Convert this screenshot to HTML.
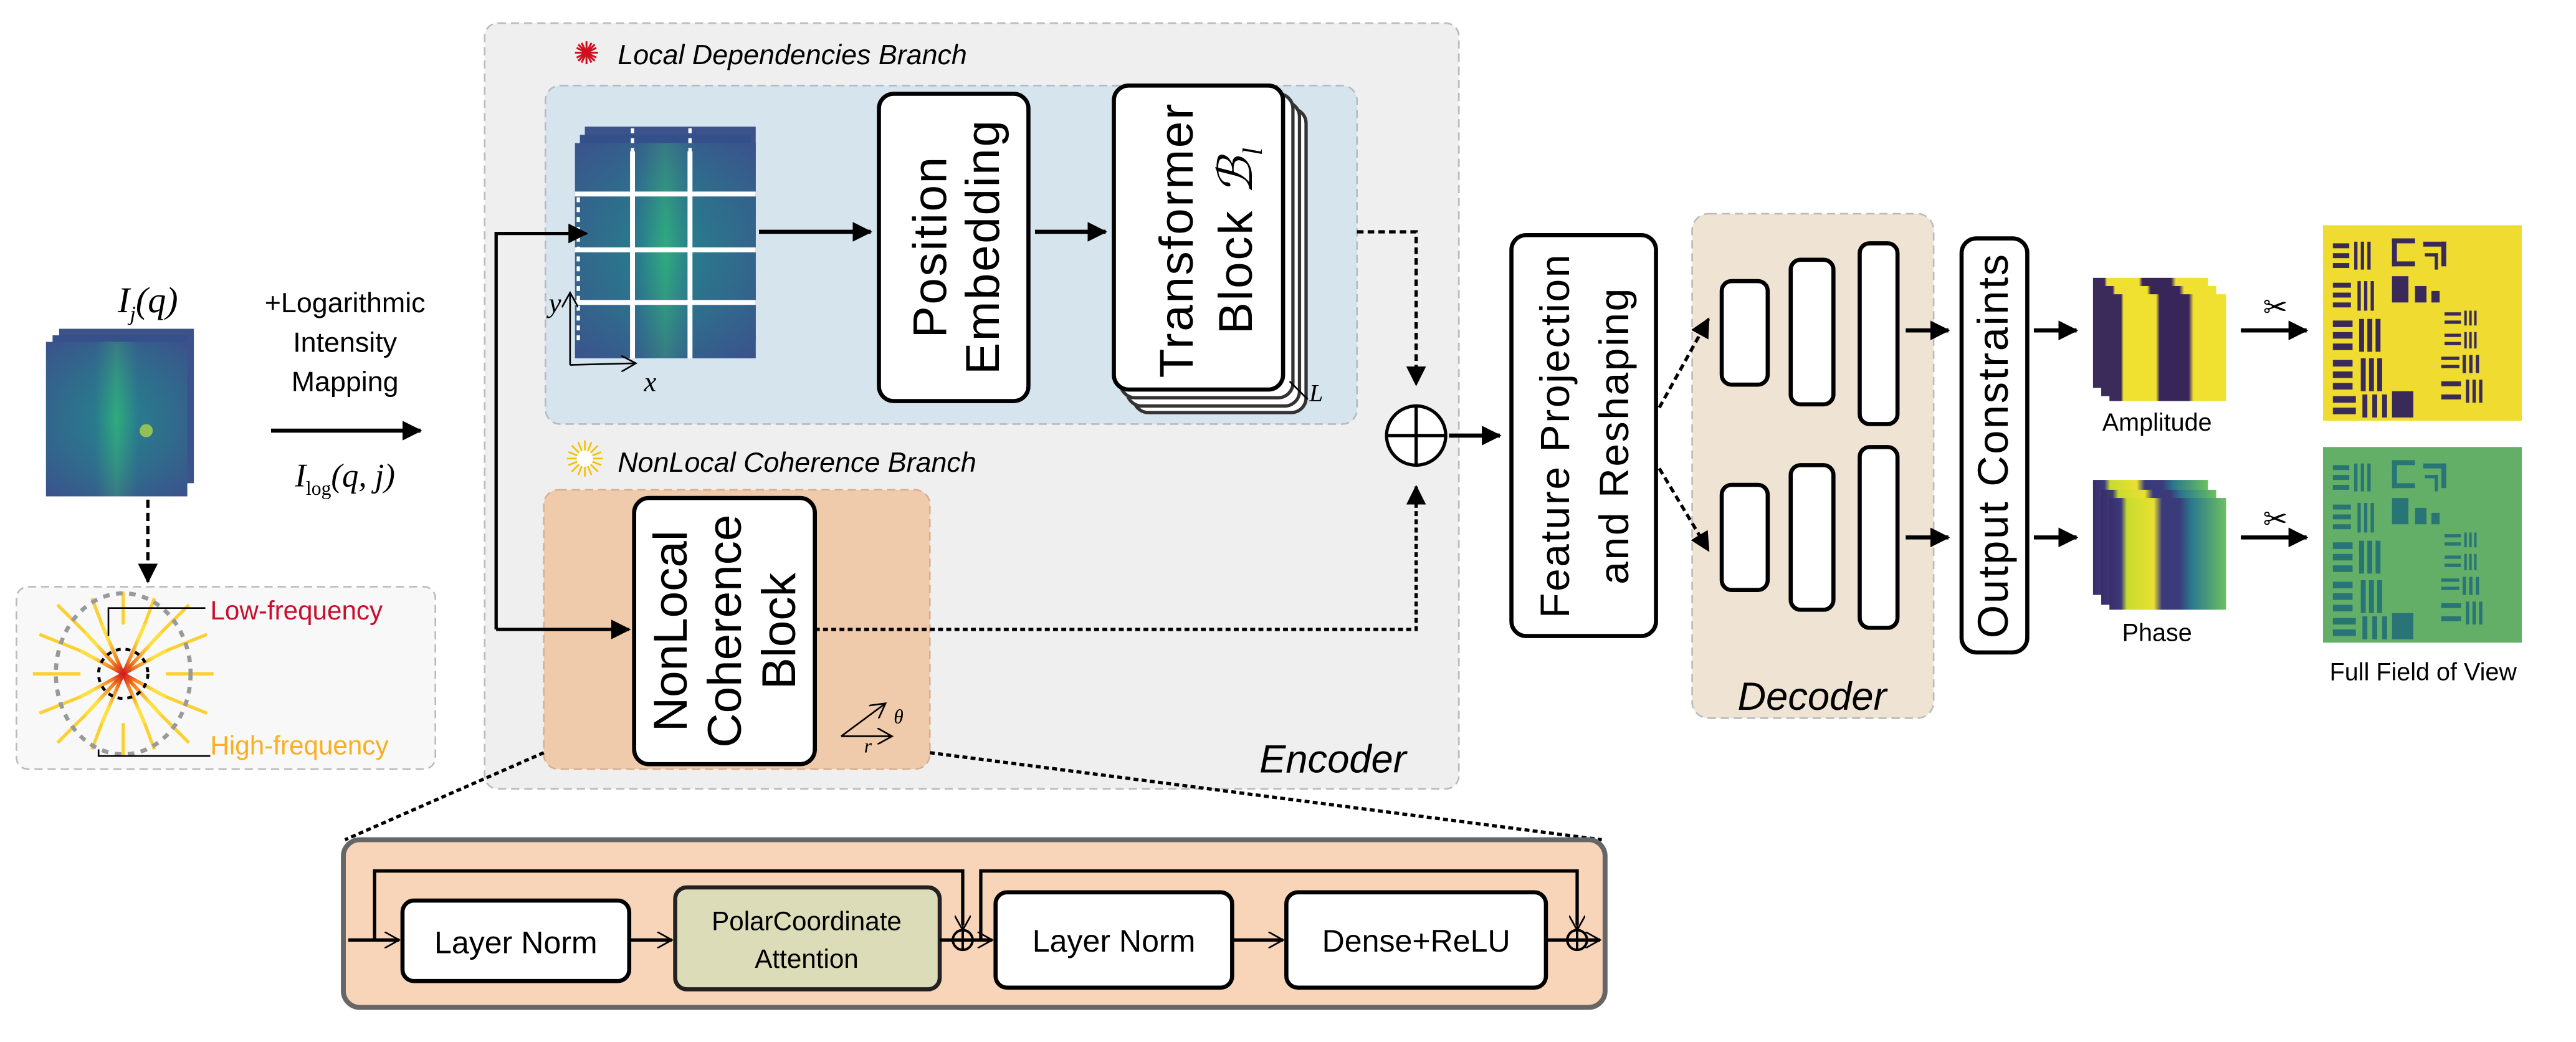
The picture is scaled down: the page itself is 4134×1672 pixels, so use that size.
<!DOCTYPE html>
<html><head><meta charset="utf-8"><style>
html,body{margin:0;padding:0;background:#fff}
svg{display:block}
text{font-family:"Liberation Sans",sans-serif}
.it{font-style:italic}
.ser{font-family:"Liberation Serif",serif;font-style:italic}
</style></head><body>
<svg width="4134" height="1672" viewBox="0 0 1568 634" xmlns="http://www.w3.org/2000/svg">
<defs>
<marker id="ab" markerWidth="12" markerHeight="12" refX="11" refY="6" orient="auto" markerUnits="userSpaceOnUse"><path d="M0,0 L12,6 L0,12 z" fill="#000"/></marker>
<marker id="ao" markerWidth="10" markerHeight="10" refX="9" refY="5" orient="auto" markerUnits="userSpaceOnUse"><path d="M0,0 L9,5 L0,10" fill="none" stroke="#000" stroke-width="1"/></marker>
<linearGradient id="fm" x1="0" x2="1"><stop offset="0" stop-color="#3b528b"/><stop offset="0.35" stop-color="#2c728e"/><stop offset="0.5" stop-color="#35b779"/><stop offset="0.65" stop-color="#2c728e"/><stop offset="1" stop-color="#3b528b"/></linearGradient>
<linearGradient id="fmv" x1="0" x2="0" y1="0" y2="1"><stop offset="0" stop-color="#3b528b" stop-opacity="0.6"/><stop offset="0.5" stop-color="#21918c" stop-opacity="0.3"/><stop offset="1" stop-color="#3b528b" stop-opacity="0.6"/></linearGradient>
<linearGradient id="amp" x1="0" x2="1"><stop offset="0" stop-color="#3b2b5b"/><stop offset="0.1" stop-color="#3b2b5b"/><stop offset="0.12" stop-color="#f0e030"/><stop offset="0.4" stop-color="#f0e030"/><stop offset="0.43" stop-color="#38265a"/><stop offset="0.68" stop-color="#38265a"/><stop offset="0.72" stop-color="#f0e030"/><stop offset="1" stop-color="#f0e030"/></linearGradient>
<linearGradient id="ph" x1="0" x2="1"><stop offset="0" stop-color="#3b2b6b"/><stop offset="0.1" stop-color="#3b3b7b"/><stop offset="0.15" stop-color="#c8dc30"/><stop offset="0.38" stop-color="#e8e030"/><stop offset="0.45" stop-color="#3b3b7b"/><stop offset="0.6" stop-color="#3b3b7b"/><stop offset="0.7" stop-color="#2a788e"/><stop offset="1" stop-color="#6cc060"/></linearGradient>
<radialGradient id="ray"><stop offset="0" stop-color="#d01020"/><stop offset="0.4" stop-color="#f08020"/><stop offset="1" stop-color="#ffe040"/></radialGradient>
</defs>

<rect x="295" y="14" width="593" height="466" rx="8" fill="#efefef" stroke="#bbb" stroke-dasharray="5,3" stroke-width="1"/>
<text x="856" y="470" class="it" font-size="24" text-anchor="end">Encoder</text>

<g stroke="#d01020" stroke-width="1.2">
<line x1="350" y1="32" x2="364" y2="32"/><line x1="357" y1="25" x2="357" y2="39"/><line x1="352" y1="27" x2="362" y2="37"/><line x1="362" y1="27" x2="352" y2="37"/><line x1="351" y1="29" x2="363" y2="35"/><line x1="351" y1="35" x2="363" y2="29"/><line x1="354" y1="26" x2="360" y2="38"/><line x1="360" y1="26" x2="354" y2="38"/>
</g>
<text x="376" y="39" class="it" font-size="17">Local Dependencies Branch</text>
<rect x="332" y="52" width="494" height="206" rx="9" fill="#d6e4ee" stroke="#b0bcc8" stroke-dasharray="5,3"/>

<rect x="356" y="77" width="104" height="130" fill="#3b528b"/>
<rect x="353" y="82" width="104" height="130" fill="#34508a"/>
<rect x="350" y="87" width="110" height="131" fill="url(#fm)"/>
<rect x="350" y="87" width="110" height="131" fill="url(#fmv)"/>
<g stroke="#fff" stroke-width="3">
<line x1="350" y1="118" x2="460" y2="118"/><line x1="350" y1="152" x2="460" y2="152"/><line x1="350" y1="184" x2="460" y2="184"/>
<line x1="385" y1="92" x2="385" y2="218"/><line x1="420" y1="92" x2="420" y2="218"/>
</g>
<g stroke="#fff" stroke-width="2" stroke-dasharray="3,3"><line x1="385" y1="78" x2="385" y2="92"/><line x1="420" y1="78" x2="420" y2="92"/><line x1="352" y1="120" x2="352" y2="210"/></g>
<line x1="347" y1="222" x2="347" y2="178" stroke="#000" stroke-width="1" marker-end="url(#ao)"/>
<line x1="347" y1="222" x2="387" y2="221" stroke="#000" stroke-width="1" marker-end="url(#ao)"/>
<text x="334" y="190" class="ser" font-size="17">y</text>
<text x="392" y="238" class="ser" font-size="17">x</text>

<line x1="462" y1="141" x2="530" y2="141" stroke="#000" stroke-width="2.5" marker-end="url(#ab)"/>
<rect x="535" y="57" width="91" height="187" rx="9" fill="#fff" stroke="#000" stroke-width="2.5"/>
<text transform="translate(576,150) rotate(-90)" font-size="29" letter-spacing="1" text-anchor="middle">Position</text>
<text transform="translate(608,150) rotate(-90)" font-size="29" letter-spacing="1" text-anchor="middle">Embedding</text>
<line x1="630" y1="141" x2="673" y2="141" stroke="#000" stroke-width="2.5" marker-end="url(#ab)"/>
<rect x="690" y="66" width="105" height="185" rx="9" fill="#fff" stroke="#333" stroke-width="2"/>
<rect x="686" y="62" width="105" height="185" rx="9" fill="#fff" stroke="#333" stroke-width="2"/>
<rect x="682" y="57" width="105" height="185" rx="9" fill="#fff" stroke="#333" stroke-width="2"/>
<rect x="678" y="52" width="103" height="185" rx="9" fill="#fff" stroke="#000" stroke-width="2.5"/>
<text transform="translate(726,146) rotate(-90)" font-size="29" letter-spacing="1" text-anchor="middle">Transformer</text>
<text transform="translate(762,146) rotate(-90)" font-size="29" letter-spacing="1" text-anchor="middle">Block <tspan class="ser">ℬ</tspan><tspan class="ser" font-size="17" dy="6">l</tspan></text>
<line x1="785" y1="232" x2="796" y2="243" stroke="#000" stroke-width="1"/>
<text x="797" y="244" class="ser" font-size="15">L</text>

<polyline points="826,141 862,141 862,234" fill="none" stroke="#000" stroke-width="2" stroke-dasharray="4,2.5" marker-end="url(#ab)"/>
<circle cx="862" cy="265" r="18" fill="#fff" stroke="#000" stroke-width="2"/>
<line x1="844" y1="265" x2="880" y2="265" stroke="#000" stroke-width="2"/><line x1="862" y1="247" x2="862" y2="283" stroke="#000" stroke-width="2"/>
<line x1="882" y1="265" x2="913" y2="265" stroke="#000" stroke-width="2.5" marker-end="url(#ab)"/>

<g stroke="#f5c000" stroke-width="1">
<line x1="345" y1="279" x2="367" y2="279"/><line x1="356" y1="268" x2="356" y2="290"/><line x1="348" y1="271" x2="364" y2="287"/><line x1="364" y1="271" x2="348" y2="287"/><line x1="346" y1="275" x2="366" y2="283"/><line x1="346" y1="283" x2="366" y2="275"/><line x1="352" y1="269" x2="360" y2="289"/><line x1="360" y1="269" x2="352" y2="289"/>
</g>
<circle cx="356" cy="279" r="5" fill="#fff"/>
<text x="376" y="287" class="it" font-size="17">NonLocal Coherence Branch</text>
<rect x="331" y="298" width="235" height="170" rx="9" fill="#f0cbab" stroke="#d8b090" stroke-dasharray="5,3"/>
<rect x="386" y="303" width="110" height="162" rx="9" fill="#fff" stroke="#000" stroke-width="2.5"/>
<text transform="translate(418,384) rotate(-90)" font-size="29" text-anchor="middle">NonLocal</text>
<text transform="translate(451,384) rotate(-90)" font-size="29" text-anchor="middle">Coherence</text>
<text transform="translate(484,384) rotate(-90)" font-size="29" text-anchor="middle">Block</text>
<line x1="512" y1="448" x2="543" y2="448" stroke="#000" stroke-width="1" marker-end="url(#ao)"/>
<line x1="512" y1="448" x2="539" y2="428" stroke="#000" stroke-width="1" marker-end="url(#ao)"/>
<text x="544" y="440" class="ser" font-size="12">θ</text>
<text x="526" y="458" class="ser" font-size="12">r</text>

<polyline points="496,383 862,383 862,296" fill="none" stroke="#000" stroke-width="2" stroke-dasharray="3,2" marker-end="url(#ab)"/>

<polyline points="302,383 302,142 357,142" fill="none" stroke="#000" stroke-width="2" marker-end="url(#ab)"/>
<line x1="302" y1="383" x2="383" y2="383" stroke="#000" stroke-width="2" marker-end="url(#ab)"/>

<text x="90" y="190" class="ser" font-size="22" text-anchor="middle">I<tspan font-size="13" dy="5">j</tspan><tspan dy="-5">(q)</tspan></text>
<rect x="36" y="200" width="82" height="94" fill="#3b528b"/>
<rect x="32" y="204" width="82" height="94" fill="#35508a"/>
<rect x="28" y="208" width="86" height="94" fill="url(#fm)"/>
<rect x="28" y="208" width="86" height="94" fill="url(#fmv)"/>
<circle cx="89" cy="262" r="4" fill="#c0e040" opacity="0.7"/>
<text x="210" y="190" font-size="17" text-anchor="middle">+Logarithmic</text>
<text x="210" y="214" font-size="17" text-anchor="middle">Intensity</text>
<text x="210" y="238" font-size="17" text-anchor="middle">Mapping</text>
<line x1="165" y1="262" x2="256" y2="262" stroke="#000" stroke-width="2.5" marker-end="url(#ab)"/>
<text x="210" y="296" class="ser" font-size="20" text-anchor="middle">I<tspan font-size="12" dy="5" font-style="normal">log</tspan><tspan dy="-5">(q, j)</tspan></text>
<line x1="90" y1="304" x2="90" y2="354" stroke="#000" stroke-width="2" stroke-dasharray="5,3" marker-end="url(#ab)"/>

<rect x="10" y="357" width="255" height="111" rx="7" fill="#f8f8f8" stroke="#bbb" stroke-dasharray="5,3"/>
<g stroke="url(#ray)" stroke-width="2.2">
<line x1="49" y1="410" x2="101" y2="410"/><line x1="75" y1="380" x2="75" y2="440"/>
<line x1="52" y1="385" x2="98" y2="435"/><line x1="98" y1="385" x2="52" y2="435"/>
<line x1="62" y1="380" x2="88" y2="440"/><line x1="88" y1="380" x2="62" y2="440"/>
<line x1="49" y1="396" x2="101" y2="424"/><line x1="49" y1="424" x2="101" y2="396"/>
</g>
<g stroke="#fbd030" stroke-width="2">
<line x1="20" y1="410" x2="49" y2="410"/><line x1="101" y1="410" x2="130" y2="410"/><line x1="75" y1="360" x2="75" y2="380"/><line x1="75" y1="440" x2="75" y2="460"/>
<line x1="35" y1="368" x2="52" y2="385"/><line x1="98" y1="435" x2="115" y2="452"/><line x1="115" y1="368" x2="98" y2="385"/><line x1="52" y1="435" x2="35" y2="452"/>
<line x1="56" y1="364" x2="62" y2="380"/><line x1="94" y1="364" x2="88" y2="380"/><line x1="62" y1="440" x2="56" y2="456"/><line x1="88" y1="440" x2="94" y2="456"/>
<line x1="24" y1="386" x2="49" y2="396"/><line x1="126" y1="386" x2="101" y2="396"/><line x1="24" y1="434" x2="49" y2="424"/><line x1="126" y1="434" x2="101" y2="424"/>
</g>
<ellipse cx="75" cy="410" rx="41" ry="49" fill="none" stroke="#999" stroke-width="2.5" stroke-dasharray="4,4"/>
<circle cx="75" cy="410" r="15" fill="none" stroke="#000" stroke-width="1.8" stroke-dasharray="3,3"/>
<polyline points="66,387 66,370 125,370" fill="none" stroke="#000" stroke-width="1"/>
<polyline points="60,456 60,460 128,460" fill="none" stroke="#000" stroke-width="1"/>
<text x="128" y="377" font-size="16" fill="#c8102e">Low-frequency</text>
<text x="128" y="459" font-size="16" fill="#f8b020">High-frequency</text>

<rect x="920" y="143" width="88" height="244" rx="9" fill="#fff" stroke="#000" stroke-width="2.5"/>
<text transform="translate(955,265) rotate(-90)" font-size="25" letter-spacing="1" text-anchor="middle">Feature  Projection</text>
<text transform="translate(991,265) rotate(-90)" font-size="25" letter-spacing="1" text-anchor="middle">and Reshaping</text>

<rect x="1030" y="130" width="147" height="307" rx="10" fill="#efe3d3" stroke="#bbb" stroke-dasharray="5,3"/>
<text x="1103" y="432" class="it" font-size="24" text-anchor="middle">Decoder</text>
<g fill="#fff" stroke="#000" stroke-width="2.5">
<rect x="1048" y="171" width="28" height="63" rx="6"/><rect x="1090" y="158" width="26" height="88" rx="6"/><rect x="1132" y="148" width="23" height="110" rx="6"/>
<rect x="1048" y="295" width="28" height="64" rx="6"/><rect x="1090" y="283" width="26" height="88" rx="6"/><rect x="1132" y="272" width="23" height="110" rx="6"/>
</g>
<line x1="1010" y1="248" x2="1040" y2="194" stroke="#000" stroke-width="2" stroke-dasharray="4,2.5" marker-end="url(#ab)"/>
<line x1="1010" y1="285" x2="1040" y2="335" stroke="#000" stroke-width="2" stroke-dasharray="4,2.5" marker-end="url(#ab)"/>
<line x1="1160" y1="201" x2="1186" y2="201" stroke="#000" stroke-width="2.5" marker-end="url(#ab)"/>
<line x1="1160" y1="327" x2="1186" y2="327" stroke="#000" stroke-width="2.5" marker-end="url(#ab)"/>

<rect x="1194" y="145" width="40" height="252" rx="9" fill="#fff" stroke="#000" stroke-width="2.5"/>
<text transform="translate(1222,271) rotate(-90)" font-size="26" letter-spacing="1" text-anchor="middle">Output Constraints</text>
<line x1="1238" y1="201" x2="1264" y2="201" stroke="#000" stroke-width="2.5" marker-end="url(#ab)"/>
<line x1="1238" y1="327" x2="1264" y2="327" stroke="#000" stroke-width="2.5" marker-end="url(#ab)"/>

<rect x="1274" y="169" width="70" height="67" fill="url(#amp)"/>
<rect x="1279" y="174" width="70" height="67" fill="url(#amp)"/>
<rect x="1284" y="179" width="71" height="65" fill="url(#amp)"/>
<text x="1313" y="262" font-size="15" text-anchor="middle">Amplitude</text>
<rect x="1274" y="292" width="70" height="70" fill="url(#ph)"/>
<rect x="1279" y="298" width="70" height="70" fill="url(#ph)"/>
<rect x="1284" y="303" width="71" height="68" fill="url(#ph)"/>
<text x="1313" y="390" font-size="15" text-anchor="middle">Phase</text>

<text x="1385" y="193" font-size="18" text-anchor="middle">✂</text>
<text x="1385" y="322" font-size="18" text-anchor="middle">✂</text>
<line x1="1364" y1="201" x2="1404" y2="201" stroke="#000" stroke-width="2.5" marker-end="url(#ab)"/>
<line x1="1364" y1="327" x2="1404" y2="327" stroke="#000" stroke-width="2.5" marker-end="url(#ab)"/>

<g id="tg">
<rect x="1414" y="137" width="121" height="119" fill="#f0dc30"/>
<g fill="#3a2a5a">
<rect x="1420" y="148" width="10" height="3"/><rect x="1420" y="154" width="10" height="3"/><rect x="1420" y="160" width="10" height="3"/><rect x="1433" y="147" width="2" height="17"/><rect x="1437" y="147" width="2" height="17"/><rect x="1441" y="147" width="2" height="17"/>
<rect x="1420" y="172" width="11" height="3"/><rect x="1420" y="178" width="11" height="3"/><rect x="1420" y="184" width="11" height="3"/><rect x="1435" y="171" width="2" height="18"/><rect x="1439" y="171" width="2" height="18"/><rect x="1443" y="171" width="2" height="18"/>
<rect x="1420" y="195" width="12" height="4"/><rect x="1420" y="202" width="12" height="4"/><rect x="1420" y="209" width="12" height="4"/><rect x="1436" y="194" width="3" height="20"/><rect x="1441" y="194" width="3" height="20"/><rect x="1446" y="194" width="3" height="20"/>
<rect x="1420" y="219" width="12" height="4"/><rect x="1420" y="226" width="12" height="4"/><rect x="1420" y="233" width="12" height="4"/><rect x="1437" y="218" width="3" height="20"/><rect x="1442" y="218" width="3" height="20"/><rect x="1447" y="218" width="3" height="20"/>
<rect x="1420" y="241" width="14" height="4"/><rect x="1420" y="248" width="14" height="4"/><rect x="1438" y="240" width="3" height="14"/><rect x="1444" y="240" width="3" height="14"/><rect x="1450" y="240" width="3" height="14"/><rect x="1456" y="238" width="13" height="16"/>
<rect x="1456" y="145" width="14" height="3"/><rect x="1456" y="145" width="3" height="17"/><rect x="1456" y="159" width="14" height="3"/>
<rect x="1475" y="147" width="14" height="3"/><rect x="1486" y="147" width="3" height="15"/><rect x="1476" y="154" width="8" height="2"/><rect x="1482" y="154" width="2" height="10"/>
<rect x="1456" y="168" width="10" height="16"/><rect x="1470" y="174" width="7" height="10"/><rect x="1480" y="177" width="5" height="7"/>
<rect x="1488" y="190" width="10" height="2"/><rect x="1488" y="195" width="10" height="2"/><rect x="1500" y="189" width="1.5" height="9"/><rect x="1503" y="189" width="1.5" height="9"/><rect x="1506" y="189" width="1.5" height="9"/>
<rect x="1488" y="203" width="10" height="2"/><rect x="1488" y="208" width="10" height="2"/><rect x="1500" y="202" width="1.5" height="10"/><rect x="1503" y="202" width="1.5" height="10"/><rect x="1506" y="202" width="1.5" height="10"/>
<rect x="1486" y="217" width="11" height="2"/><rect x="1486" y="222" width="11" height="2"/><rect x="1499" y="216" width="2" height="11"/><rect x="1503" y="216" width="2" height="11"/><rect x="1507" y="216" width="2" height="11"/>
<rect x="1486" y="232" width="12" height="3"/><rect x="1486" y="240" width="12" height="3"/><rect x="1501" y="231" width="2" height="14"/><rect x="1505" y="231" width="2" height="14"/><rect x="1509" y="231" width="2" height="14"/>
</g>
</g>
<rect x="1414" y="272" width="121" height="119" fill="#22987f"/>
<use href="#tg" transform="translate(0,135)" opacity="0.5"/>
<rect x="1414" y="272" width="121" height="119" fill="#1f9a8a" opacity="0.35"/>
<text x="1475" y="414" font-size="15" text-anchor="middle">Full Field of View</text>

<line x1="331" y1="458" x2="210" y2="511" stroke="#000" stroke-width="2" stroke-dasharray="3,2"/>
<line x1="566" y1="458" x2="975" y2="511" stroke="#000" stroke-width="2" stroke-dasharray="3,2"/>

<rect x="209" y="511" width="768" height="102" rx="10" fill="#f8d5b9" stroke="#666" stroke-width="3"/>
<polyline points="228,572 228,530 586,530 586,563" fill="none" stroke="#000" stroke-width="2"/>
<line x1="586" y1="553" x2="586" y2="566" stroke="#000" stroke-width="1" marker-end="url(#ao)"/>
<polyline points="597,572 597,530 960,530 960,563" fill="none" stroke="#000" stroke-width="2"/>
<line x1="960" y1="553" x2="960" y2="566" stroke="#000" stroke-width="1" marker-end="url(#ao)"/>
<line x1="212" y1="572" x2="243" y2="572" stroke="#000" stroke-width="2" marker-end="url(#ao)"/>
<rect x="245" y="548" width="138" height="49" rx="7" fill="#fff" stroke="#000" stroke-width="2.5"/>
<text x="314" y="580" font-size="19" text-anchor="middle">Layer Norm</text>
<line x1="383" y1="572" x2="409" y2="572" stroke="#000" stroke-width="2" marker-end="url(#ao)"/>
<rect x="411" y="540" width="161" height="62" rx="7" fill="#dcdcb9" stroke="#222" stroke-width="2.5"/>
<text x="491" y="566" font-size="16" text-anchor="middle">PolarCoordinate</text>
<text x="491" y="589" font-size="16" text-anchor="middle">Attention</text>
<line x1="572" y1="572" x2="604" y2="572" stroke="#000" stroke-width="2" marker-end="url(#ao)"/>
<circle cx="586" cy="572" r="6" fill="none" stroke="#000" stroke-width="1.5"/><line x1="586" y1="566" x2="586" y2="578" stroke="#000" stroke-width="1.5"/>
<rect x="606" y="543" width="144" height="58" rx="7" fill="#fff" stroke="#000" stroke-width="2.5"/>
<text x="678" y="579" font-size="19" text-anchor="middle">Layer Norm</text>
<line x1="750" y1="572" x2="781" y2="572" stroke="#000" stroke-width="2" marker-end="url(#ao)"/>
<rect x="783" y="543" width="158" height="58" rx="7" fill="#fff" stroke="#000" stroke-width="2.5"/>
<text x="862" y="579" font-size="19" text-anchor="middle">Dense+ReLU</text>
<line x1="941" y1="572" x2="974" y2="572" stroke="#000" stroke-width="2" marker-end="url(#ao)"/>
<circle cx="960" cy="572" r="6" fill="none" stroke="#000" stroke-width="1.5"/><line x1="960" y1="566" x2="960" y2="578" stroke="#000" stroke-width="1.5"/>
</svg>
</body></html>
